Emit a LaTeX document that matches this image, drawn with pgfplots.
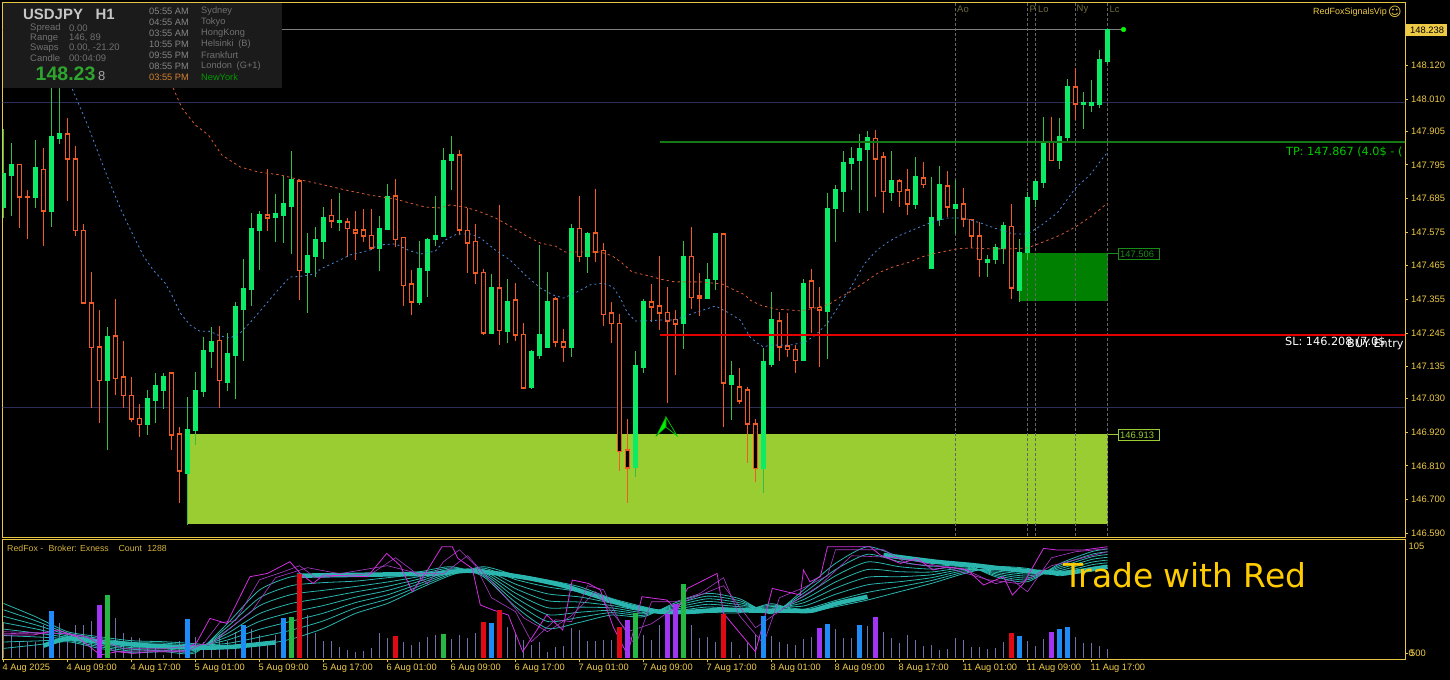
\documentclass[border=0pt]{standalone}
\usepackage{pgfplots}
\usepackage{pgfplotstable}
\usepackage{fontspec}
\pgfplotsset{compat=1.18}
\setmainfont{Liberation Sans}
\newfontfamily\djv{DejaVu Sans}
\definecolor{frame}{HTML}{E9C544}
\definecolor{ticktxt}{HTML}{EFCB45}
\definecolor{upbody}{HTML}{0BEB66}
\definecolor{upwick}{HTML}{35C045}
\definecolor{dnc}{HTML}{F05A25}
\definecolor{limebox}{HTML}{9ACD32}
\definecolor{greenbox}{HTML}{008000}
\definecolor{hline}{HTML}{2B2F58}
\definecolor{panelc}{HTML}{1B1B1B}
\definecolor{tealc}{HTML}{2AB5AE}
\definecolor{magc}{HTML}{D22FE0}
\definecolor{magd}{HTML}{A93CC8}
\definecolor{volc}{HTML}{7070A8}
\definecolor{vblue}{HTML}{1E8CF8}
\definecolor{vpur}{HTML}{A235F5}
\definecolor{vgrn}{HTML}{25B845}
\definecolor{vred}{HTML}{E00A14}
\definecolor{maorange}{HTML}{D65A30}
\definecolor{mablue}{HTML}{4A86D8}
\definecolor{sess}{HTML}{6F6B3C}
\definecolor{gtxt}{HTML}{707070}
\definecolor{tpgreen}{HTML}{157A15}
\definecolor{pricegreen}{HTML}{2EA52E}
\definecolor{tradeyel}{HTML}{FFCC00}
\definecolor{eightc}{HTML}{A6A6A6}

% k high bodytop bodybottom low
\pgfplotstableread{
k h t b l
0 147.912 147.768 147.657 147.621
1 147.866 147.795 147.762 147.628
4 147.876 147.785 147.690 147.654
6 148.056 147.889 147.644 147.592
7 148.047 147.896 147.883 147.863
13 147.264 147.232 147.088 146.862
18 147.058 147.029 146.944 146.911
19 147.114 147.071 147.025 146.950
20 147.114 147.101 147.058 146.996
23 147.035 146.930 146.786 146.616
24 147.117 147.055 146.927 146.878
25 147.232 147.186 147.055 147.035
26 147.264 147.215 147.186 147.130
28 147.245 147.176 147.084 147.055
29 147.346 147.330 147.173 147.029
30 147.487 147.389 147.323 147.153
31 147.637 147.585 147.389 147.333
32 147.644 147.631 147.582 147.451
34 147.700 147.634 147.624 147.543
35 147.758 147.667 147.631 147.539
36 147.840 147.746 147.660 147.503
38 147.572 147.497 147.444 147.310
39 147.592 147.549 147.494 147.428
40 147.657 147.624 147.546 147.487
42 147.703 147.611 147.608 147.579
47 147.628 147.588 147.523 147.448
48 147.732 147.690 147.585 147.585
52 147.546 147.454 147.346 147.336
53 147.556 147.552 147.451 147.362
54 147.693 147.565 147.552 147.529
55 147.850 147.808 147.562 147.559
56 147.889 147.827 147.808 147.713
61 147.438 147.392 147.245 147.245
63 147.421 147.349 147.251 147.212
66 147.189 147.183 147.068 147.061
67 147.533 147.241 147.173 147.160
68 147.444 147.346 147.196 147.196
71 147.601 147.585 147.196 147.166
73 147.575 147.569 147.494 147.441
79 147.186 147.137 146.806 146.773
80 147.356 147.346 147.133 147.114
85 147.546 147.494 147.277 147.192
88 147.474 147.421 147.359 147.356
89 147.572 147.569 147.421 147.385
91 147.153 147.104 147.078 146.960
95 147.196 147.150 146.800 146.721
96 147.379 147.287 147.143 147.133
100 147.421 147.408 147.156 147.153
103 147.703 147.651 147.317 147.160
104 147.729 147.713 147.651 147.543
105 147.840 147.801 147.709 147.641
106 147.853 147.814 147.801 147.713
107 147.896 147.847 147.811 147.637
108 147.906 147.883 147.847 147.644
111 147.840 147.742 147.706 147.677
114 147.821 147.755 147.664 147.651
116 147.755 147.621 147.457 147.457
117 147.791 147.729 147.618 147.595
119 147.746 147.664 147.654 147.569
123 147.500 147.484 147.477 147.428
124 147.536 147.523 147.484 147.471
125 147.608 147.595 147.523 147.471
127 147.552 147.507 147.385 147.346
128 147.706 147.687 147.507 147.484
129 147.749 147.739 147.683 147.657
130 147.952 147.867 147.736 147.719
132 147.948 147.889 147.808 147.781
133 148.076 148.050 147.886 147.873
135 148.034 147.998 147.994 147.912
136 148.073 147.998 147.991 147.968
137 148.171 148.138 147.994 147.981
138 148.240 148.238 148.132 148.125
}\upt

\pgfplotstableread{
k h t b l
2 147.795 147.795 147.690 147.588
3 147.713 147.691 147.688 147.552
5 147.850 147.781 147.644 147.529
8 147.948 147.896 147.814 147.677
9 147.857 147.814 147.579 147.562
10 147.601 147.579 147.343 147.340
11 147.444 147.343 147.196 146.999
12 147.320 147.199 147.088 146.950
14 147.356 147.235 147.097 147.042
15 147.219 147.101 147.039 146.999
16 147.101 147.039 146.963 146.953
17 147.012 146.966 146.944 146.904
21 147.117 147.114 146.911 146.862
22 146.937 146.914 146.793 146.688
27 147.268 147.219 147.088 146.999
33 147.781 147.631 147.621 147.579
37 147.742 147.742 147.448 147.353
41 147.683 147.628 147.611 147.588
43 147.621 147.608 147.588 147.494
44 147.644 147.582 147.572 147.484
45 147.651 147.582 147.562 147.543
46 147.651 147.565 147.523 147.516
49 147.749 147.693 147.552 147.526
50 147.559 147.556 147.399 147.333
51 147.451 147.405 147.346 147.304
57 147.844 147.827 147.582 147.565
58 147.654 147.579 147.539 147.441
59 147.601 147.543 147.441 147.405
60 147.454 147.444 147.245 147.238
62 147.664 147.392 147.254 147.205
64 147.408 147.353 147.238 147.219
65 147.277 147.241 147.065 147.061
69 147.362 147.356 147.215 147.199
70 147.258 147.215 147.199 147.150
72 147.693 147.588 147.494 147.477
74 147.716 147.572 147.510 147.477
75 147.539 147.516 147.304 147.268
76 147.346 147.310 147.277 147.212
77 147.307 147.277 146.858 146.793
78 146.963 146.862 146.803 146.688
81 147.405 147.346 147.330 147.281
82 147.497 147.333 147.310 147.254
83 147.395 147.313 147.284 147.016
84 147.320 147.290 147.274 147.107
86 147.592 147.494 147.362 147.323
87 147.441 147.366 147.359 147.300
90 147.569 147.569 147.081 146.937
92 147.130 147.068 147.022 147.012
93 147.068 147.058 146.947 146.819
94 146.963 146.947 146.800 146.757
97 147.313 147.284 147.199 147.153
98 147.310 147.202 147.192 147.166
99 147.205 147.192 147.156 147.114
101 147.454 147.415 147.327 147.245
102 147.395 147.327 147.320 147.133
109 147.909 147.880 147.814 147.690
110 147.837 147.821 147.709 147.637
112 147.749 147.742 147.709 147.657
113 147.781 147.713 147.667 147.631
115 147.804 147.752 147.732 147.719
118 147.775 147.726 147.657 147.624
120 147.719 147.667 147.618 147.592
121 147.618 147.615 147.562 147.523
122 147.608 147.562 147.484 147.428
126 147.667 147.592 147.392 147.356
131 147.952 147.867 147.808 147.808
134 148.112 148.050 147.994 147.942
}\dnt

\pgfplotstableread{
k p
8.6 148.043
9.3 148.001
10.6 147.919
11.7 147.844
13.0 147.755
14.7 147.647
16.2 147.565
17.5 147.497
18.7 147.451
20.2 147.408
21.1 147.366
22.1 147.310
23.3 147.271
24.5 147.251
25.8 147.250
27.1 147.235
28.3 147.228
29.6 147.245
31.1 147.287
32.5 147.330
34.2 147.382
35.8 147.428
37.1 147.430
39.0 147.438
39.6 147.454
42.1 147.484
43.3 147.500
45.8 147.516
46.8 147.533
49.0 147.536
50.6 147.516
52.1 147.503
54.0 147.513
55.2 147.549
56.7 147.569
58.3 147.569
59.6 147.556
61.5 147.516
63.3 147.484
65.2 147.435
67.1 147.392
68.7 147.369
70.0 147.359
71.7 147.379
73.3 147.402
74.9 147.408
76.2 147.395
77.1 147.359
78.0 147.310
79.0 147.284
80.2 147.284
82.1 147.287
83.9 147.287
85.2 147.300
87.1 147.317
89.0 147.333
90.5 147.313
92.1 147.287
93.3 147.232
94.2 147.212
95.0 147.199
95.8 147.205
98.3 147.205
100.2 147.215
101.5 147.238
103.0 147.277
105.5 147.376
106.8 147.435
107.7 147.474
109.2 147.516
110.6 147.543
112.1 147.565
114.2 147.588
116.1 147.608
118.0 147.621
120.0 147.621
122.1 147.605
123.9 147.588
126.2 147.569
128.0 147.569
129.6 147.595
131.7 147.637
134.0 147.719
135.8 147.762
138.0 147.837
}\mablue

\pgfplotstableread{
k p
21.2 148.047
22.3 147.981
24.0 147.925
25.6 147.893
27.3 147.827
29.6 147.788
31.8 147.772
34.6 147.762
37.1 147.746
39.6 147.732
42.7 147.713
45.8 147.696
49.0 147.683
50.8 147.670
52.7 147.657
54.6 147.654
55.8 147.664
57.7 147.657
59.6 147.641
61.5 147.621
63.3 147.595
65.2 147.565
67.1 147.539
69.0 147.529
70.2 147.510
72.7 147.510
74.6 147.510
76.1 147.497
77.3 147.474
78.6 147.444
80.8 147.431
82.1 147.421
83.9 147.412
87.1 147.412
89.8 147.405
91.4 147.385
92.7 147.369
93.3 147.353
94.6 147.336
96.5 147.323
98.3 147.320
99.6 147.317
101.5 147.327
103.3 147.340
104.6 147.362
105.8 147.379
107.7 147.412
109.3 147.441
111.2 147.461
113.3 147.477
114.8 147.494
116.7 147.507
119.2 147.520
120.8 147.523
123.3 147.520
125.8 147.520
128.0 147.523
130.0 147.543
132.1 147.565
134.0 147.592
136.2 147.631
138.0 147.670
}\maorange

\pgfplotstableread{
k t1 t2 t3 t4 t5 t6 t7 t8
0 54.3 47.9 41.4 35.0 28.6 22.2 15.7 9.3
4 41.0 37.0 32.9 28.9 24.8 20.8 16.7 12.7
8 26 24.6 23.1 21.7 20.3 18.9 17.4 16
12 21.0 19.3 17.7 16.0 14.3 12.6 11.0 9.3
16 17 15.3 13.6 11.9 10.1 8.4 6.7 5
20 16 14.6 13.1 11.7 10.3 8.9 7.4 6
24 14 12.7 11.4 10.1 8.9 7.6 6.3 5
28 11.0 14.3 17.7 21.0 24.3 27.6 31.0 34.3
32 12.7 20.6 28.4 36.3 44.1 52.0 59.8 67.7
36 18.7 27.6 36.5 45.4 54.3 63.2 72.1 81.0
40 29.3 36.9 44.6 52.2 59.8 67.4 75.1 82.7
44 44.3 49.7 55.1 60.5 65.8 71.2 76.6 82.0
48 54.3 58.6 62.9 67.2 71.4 75.7 80.0 84.3
52 69.3 71.7 74.1 76.5 78.8 81.2 83.6 86.0
56 82.7 83.9 85.1 86.3 87.4 88.6 89.8 91
60 91 89.6 88.1 86.7 85.3 83.9 82.4 81
64 82.7 78.2 73.6 69.1 64.6 60.1 55.5 51.0
68 77.7 70.8 63.9 57.0 50.0 43.1 36.2 29.3
72 71.0 65.9 60.8 55.7 50.6 45.5 40.4 35.3
76 59.3 56.9 54.6 52.2 49.8 47.4 45.1 42.7
80 51 49.6 48.1 46.7 45.3 43.9 42.4 41
84 44 45.6 47.1 48.7 50.3 51.9 53.4 55
88 45.3 48.0 50.7 53.4 56.2 58.9 61.6 64.3
92 45 47 49 51 53 55 57 59
96 54 52.6 51.1 49.7 48.3 46.9 45.4 44
100 45.3 48.5 51.7 54.9 58.1 61.3 64.5 67.7
104 51.0 57.2 63.4 69.6 75.7 81.9 88.1 94.3
108 57.7 65.3 72.9 80.5 88.2 95.8 103.4 111.0
112 66.0 71.0 76.0 81.0 86.0 91.0 96.0 101.0
116 74.3 77.2 80.0 82.9 85.7 88.6 91.4 94.3
120 84 85.4 86.9 88.3 89.7 91.1 92.6 94
124 91.0 89.6 88.1 86.7 85.3 83.9 82.4 81.0
128 89.3 87.4 85.5 83.6 81.7 79.8 77.9 76.0
132 82 83.7 85.4 87.1 88.9 90.6 92.3 94
136 87.7 90.3 92.9 95.5 98.2 100.8 103.4 106.0
138 89.3 92.1 94.9 97.6 100.4 103.2 105.9 108.7
}\tealt

\pgfplotstableread{
k v
0 36
1 22.7
2 16
3 16
4 16
5 32.7
7 34.3
8 22.7
9 32.7
10 32.7
11 36.7
14 39.3
15 24.3
16 21
17 19.3
18 14.3
19 9.3
20 2.7
21 9.3
22 16.7
24 21
25 16
26 17.7
27 22.7
28 16.7
29 26
31 28.7
32 22.7
33 16
34 22.7
38 42.7
39 24.3
40 16.7
41 16.7
42 11
43 7.7
44 5.3
45 6.7
46 9.3
47 24.3
48 20
50 16
51 12.7
52 15.3
53 21
54 22.7
56 18.7
57 22.7
58 20
59 24.3
63 31
64 24.3
65 17.7
66 12.7
67 16
68 6
69 11
70 11.7
71 29.3
72 27.7
73 16.7
74 16.7
75 17.7
76 17.7
80 22.7
81 17.7
82 32.7
86 32.7
87 20
88 21
89 16
91 15.3
92 2.7
93 14.3
94 22.7
96 22
97 16
98 13.3
99 12.7
100 18.7
101 21
104 28.7
105 20
106 20
108 32
110 25.3
111 19.3
112 14.3
113 22.7
114 17.7
115 12
116 12.7
117 7.7
118 8.7
119 19.3
120 17.3
121 11
122 11
123 8.7
124 10
125 16
128 16.7
129 12
130 18.7
134 21
135 14.3
136 14.3
137 12
138 8.7
}\volgrey

% draws one table's candles through the axis: wick, then body
\newcommand\candles[4]{%
  \pgfplotstablegetrowsof{#1}\pgfmathtruncatemacro\nn{\pgfplotsretval-1}%
  \pgfplotsforeachungrouped \rr in {0,...,\nn}{%
    \pgfplotstablegetelem{\rr}{k}\of{#1}\let\vk\pgfplotsretval
    \pgfplotstablegetelem{\rr}{h}\of{#1}\let\vh\pgfplotsretval
    \pgfplotstablegetelem{\rr}{t}\of{#1}\let\vt\pgfplotsretval
    \pgfplotstablegetelem{\rr}{b}\of{#1}\let\vb\pgfplotsretval
    \pgfplotstablegetelem{\rr}{l}\of{#1}\let\vl\pgfplotsretval
    \pgfmathsetmacro\xa{\vk-0.25}\pgfmathsetmacro\xb{\vk+0.25}%
    \edef\tmp{\noexpand\addplot[color=#2,line width=1.3bp] coordinates {(\vk,\vh)(\vk,\vl)};%
      \noexpand\addplot[draw=#3,fill=#4,line width=1.2bp] coordinates {(\xa,\vt)(\xb,\vt)(\xb,\vb)(\xa,\vb)} --cycle;}\tmp
  }}

\begin{document}
\begin{tikzpicture}
\useasboundingbox (0,0) rectangle (1450bp,-680bp);
\fill[black] (0,0) rectangle (1450bp,-680bp);

% ---------- price window ----------
\begin{axis}[
  name=main, at={(2.5bp,-537bp)}, anchor=south west,
  scale only axis, width=1402.5bp, height=534.5bp,
  xmin=-0.125, xmax=175.1875, ymin=146.577, ymax=148.3264,
  axis line style={color=frame, line width=1bp},
  xtick=\empty,
  ytick={148.120,148.010,147.905,147.795,147.685,147.575,147.465,147.355,147.245,147.135,147.030,146.920,146.810,146.700,146.590},
  yticklabels={148.120,148.010,147.905,147.795,147.685,147.575,147.465,147.355,147.245,147.135,147.030,146.920,146.810,146.700,146.590},
  ytick pos=right, yticklabel pos=right,
  ytick style={color=frame, line width=0.8bp},
  tick align=outside, major tick length=3bp,
  yticklabel style={font=\fontsize{9.4}{10}\selectfont, text=ticktxt, anchor=west, inner sep=0pt, xshift=3bp},
]
% boxes
\addplot[fill=limebox, draw=none] coordinates {(23,146.914) (138,146.914) (138,146.6195) (23,146.6195)} --cycle;
\addplot[fill=greenbox, draw=none] coordinates {(127,147.506) (138,147.506) (138,147.3494) (127,147.3494)} --cycle;
% horizontal levels
\addplot[hline, line width=1bp] coordinates {(-1,148.000) (176,148.000)};
\addplot[hline, line width=1bp] coordinates {(-1,147.000) (176,147.000)};
\addplot[color=gray, line width=0.8bp] coordinates {(-1,148.238) (140,148.238)};
% session verticals
\addplot[color=black!60!white, dash pattern=on 2.5bp off 2.5bp, line width=0.7bp] coordinates {(119,146.5) (119,148.4)};
\addplot[color=black!60!white, dash pattern=on 2.5bp off 2.5bp, line width=0.7bp] coordinates {(128,146.5) (128,148.4)};
\addplot[color=black!60!white, dash pattern=on 2.5bp off 2.5bp, line width=0.7bp] coordinates {(129,146.5) (129,148.4)};
\addplot[color=black!60!white, dash pattern=on 2.5bp off 2.5bp, line width=0.7bp] coordinates {(134,146.5) (134,148.4)};
\addplot[color=black!60!white, dash pattern=on 2.5bp off 2.5bp, line width=0.7bp] coordinates {(138,146.5) (138,148.4)};
% candles
\candles{\dnt}{dnc}{dnc}{black}
\candles{\upt}{upwick}{upbody}{upbody}
% moving averages
\addplot[mablue, line width=0.8bp, dash pattern=on 2bp off 3bp] table[x=k,y=p] {\mablue};
\addplot[maorange, line width=0.8bp, dash pattern=on 2.5bp off 3bp] table[x=k,y=p] {\maorange};
% TP / SL
\addplot[color=tpgreen, line width=2.2bp] coordinates {(82,147.869) (176,147.869)};
\addplot[color=red!90!black, line width=2.2bp] coordinates {(82,147.238) (176,147.238)};
% arrow
\addplot[fill=green!95!black, draw=green!60!black, line width=0.5bp] coordinates {(82.8,146.970) (81.6,146.908) (82.8,146.937)} --cycle;
\addplot[fill=black, fill opacity=0, draw=green!80!black, line width=0.7bp] coordinates {(82.8,146.970) (84.2,146.908) (82.8,146.937)} --cycle;
% last price dot
\addplot[only marks, mark=*, mark size=2.3bp, color=green, mark options={draw=green, fill=green}] coordinates {(140,148.238)};
\end{axis}

% ---------- indicator window ----------
\begin{axis}[
  name=sub, at={(2.5bp,-659.3bp)}, anchor=south west,
  scale only axis, width=1402.5bp, height=120.3bp,
  xmin=-0.125, xmax=175.1875, ymin=-1.6, ymax=118.7,
  axis line style={color=frame, line width=1bp},
  xtick={0,8,16,24,32,40,48,56,64,72,80,88,96,104,112,120,128,136},
  xticklabels={4 Aug 2025,4 Aug 09:00,4 Aug 17:00,5 Aug 01:00,5 Aug 09:00,5 Aug 17:00,6 Aug 01:00,6 Aug 09:00,6 Aug 17:00,7 Aug 01:00,7 Aug 09:00,7 Aug 17:00,8 Aug 01:00,8 Aug 09:00,8 Aug 17:00,11 Aug 01:00,11 Aug 09:00,11 Aug 17:00},
  xtick pos=bottom, xticklabel pos=bottom,
  ytick={4.2}, yticklabels={}, ytick pos=right,
  tick style={color=frame, line width=0.8bp},
  tick align=outside, major tick length=3bp,
  xticklabel style={font=\fontsize{9.3}{10}\selectfont, text=ticktxt, anchor=north west, inner sep=0pt, xshift=-1bp, yshift=-2bp},
]
\addplot[ycomb, color=volc, line width=1.3bp] table[x=k,y=v] {\volgrey};
\pgfplotsinvokeforeach{1,...,8}{
  \addplot[tealc, line width=0.8bp, smooth, tension=0.4] table[x=k,y=t#1] {\tealt};
}
% solid converged parts of the ribbon
\addplot[tealc, line width=4.5bp, smooth, tension=0.4] coordinates {(5,12)(8,19.3)(12,16)(18.3,12)(24.6,10)(28.8,11)(34,15.3)};
\addplot[tealc, line width=4.5bp, smooth, tension=0.4] coordinates {(36.7,82)(50,83.5)(54,84)(58,87)(62,84)(66,79)(70,72)(74,62)(78,52)(82,46)(86,46)(90,48)(94,47)(98,47)(101,47)(104,54)(108,61)};
\addplot[tealc, line width=4.5bp, smooth, tension=0.4] coordinates {(110,102.7)(116.5,96)(121,92.7)(125,89)(129,86)(133,85)(138,91)};
\addplot[magd, line width=0.6bp] coordinates {(0,26)(8,24)(12,18)(15,9)(20,9)(26,14)(29,34)(31,46)(34,80)(38,90)(42,84)(48,92)(52,84)(55,84)(58,102)(61,76)(65,40)(68,26)(71,42)(74,66)(78,26)(81,34)(85,56)(90,72)(94,30)(98,52)(102,72)(106,102)(112,100)(118,90)(123,78)(127,74)(131,92)(138,106)};
\addplot[magd, line width=0.6bp] coordinates {(0,24)(6,25)(10,22)(14,6)(18,7)(23,7)(25,14)(27,35)(29,37)(32,78)(35,86)(37,92)(39,80)(42,82)(46,84)(49,100)(51,88)(53,74)(55,96)(57,108)(59,92)(61,60)(64,46)(66,16)(69,38)(71,36)(73,72)(75,68)(77,36)(79,12)(81,56)(84,56)(87,64)(90,80)(92,42)(95,14)(97,60)(100,70)(103,82)(104,108)(110,108)(113,94)(116,92)(120,89)(124,74)(126,78)(128,66)(131,100)(134,106)(138,109)};
\addplot[magc, line width=0.8bp] coordinates {(0,22.7)(3.7,22.7)(6.7,27.7)(9.2,21)(12.1,2.7)(14.2,6)(16.2,4.3)(18.3,6)(22.5,6)(24.2,16)(25.8,39.3)(27.9,34.3)(30.8,81)(33,84.3)(35.8,96)(37.1,84.3)(38.7,74.3)(40,82.7)(45.5,81)(47.9,104.3)(49.6,92)(51.1,66)(53,87.7)(54.8,111)(56.1,111)(56.8,99.3)(58.6,89.3)(59.6,52.7)(61.2,47.7)(63.1,42.7)(64.9,6)(67.9,42.7)(69.9,27.7)(71.1,77.7)(73.1,74.3)(74.6,67.7)(76.2,31)(78,2.7)(79.8,61)(82.9,57.7)(84.2,47.7)(85.5,69.3)(89.2,84.3)(90,44.3)(94,6)(96.1,69.3)(99.6,62.7)(100,87.7)(100.8,76)(102.1,81)(103,111)(105.8,111)(108.3,111)(109.6,102.7)(112.1,94.3)(114.2,99.3)(116.2,87.7)(118,91)(120.5,87.7)(122.5,72.7)(125,81)(126.1,62.7)(127.5,74.3)(130,109.3)(131.7,107.7)(135,107.7)(138,111)};
\addplot[ycomb, color=vblue, line width=5bp] coordinates {(6,46.7)(23,38.7)(30,32.7)(35,39.3)(61,34.7)(95,41.7)(103,33.7)(107,32.7)(127,21.7)(132,28.7)(133,30.7)};
\addplot[ycomb, color=vpur, line width=5bp] coordinates {(12,52.7)(78,37.7)(83,43.3)(84,53.7)(102,29.7)(109,40.7)(131,25.7)};
\addplot[ycomb, color=vgrn, line width=5bp] coordinates {(13,62.7)(36,41)(55,23.7)(79,44.3)(85,73.3)};
\addplot[ycomb, color=vred, line width=5bp] coordinates {(37,83.3)(49,22)(60,35.7)(62,47.7)(77,31)(90,43.7)(126,24.7)};
\end{axis}

% ---------- text layer, in reference pixels ----------
\begin{scope}[x=1bp,y=-1bp]
\def\fs#1{\fontsize{#1}{#1}\selectfont}
\tikzset{t/.style={anchor=west, inner sep=0pt}}
% info panel
\fill[panelc] (3,3) rectangle (282,88);
\node[t,text=black!22!white,font=\fs{15}\bfseries] at (23,14) {USDJPY};
\node[t,text=black!22!white,font=\fs{15}\bfseries] at (95.5,14) {H1};
\foreach \yy/\aa/\bb in {28/Spread/0.00,38/Range/{146, 89},48/Swaps/{0.00, -21.20},58/Candle/00:04:09}{
  \node[t,text=gtxt,font=\fs{9.5}] at (30,\yy) {\aa};
  \node[t,text=gtxt,font=\fs{9.5}] at (69,\yy) {\bb};
}
\node[t,text=pricegreen,font=\fs{19.6}\bfseries] at (35.5,74) {148.23};
\node[t,text=eightc,font=\fs{13}] at (98,76) {8};
\foreach \yy/\aa/\bb in {11.5/05:55 AM/Sydney,22.5/04:55 AM/Tokyo,33.5/03:55 AM/HongKong,44.5/10:55 PM/{Helsinki\,\,\,(B)},55.5/09:55 PM/Frankfurt,66.5/08:55 PM/{London\,\,\,(G+1)}}{
  \node[t,text=gtxt!85,font=\fs{9.3}] at (149,\yy) {\aa};
  \node[t,text=gtxt,font=\fs{9.3}] at (201,\yy) {\bb};
}
\node[t,text=brown!70!orange,font=\fs{9.3}] at (149,77.5) {03:55 PM};
\node[t,text=green!60!black,font=\fs{9.3}] at (201,77.5) {NewYork};
% session names
\foreach \xx/\aa in {957/Ao,1029.5/P,1038/Lo,1076.5/Ny,1109.5/Lc}{
  \node[t,text=sess,font=\fs{9.5}] at (\xx,9.5) {\aa};
}
\node[t,text=ticktxt,font=\fs{9}] at (1313,12) {RedFoxSignalsVip};
\node[t,text=ticktxt,font=\djv\fs{13}] at (1388,12) {☺};
% current price tag
\fill[ticktxt] (1406,24) rectangle (1447,35.5);
\node[t,text=black,font=\fs{9.4}] at (1410,30) {148.238};
% box price tags
\draw[greenbox!90!white,line width=0.7bp] (1107.5,253) -- (1118,253);
\draw[greenbox!90!white,line width=0.7bp] (1118,248) rectangle (1159.5,259.5);
\node[t,text=greenbox!90!white,font=\fs{9.4}] at (1120,254) {147.506};
\draw[limebox,line width=0.7bp] (1107.5,434) -- (1118,434);
\draw[limebox,line width=0.7bp] (1118,429) rectangle (1159.5,440.5);
\node[t,text=limebox,font=\fs{9.4}] at (1120,435) {146.913};
% TP / SL texts
\begin{scope}
\clip (0,0) rectangle (1404,537);
\node[t,text=green!80!black,font=\djv\fs{11.3}] at (1286,152) {TP: 147.867 (4.0\$ - (};
\node[t,text=white,font=\djv\fs{11.3}] at (1285,342) {SL: 146.208 (7.0\$};
\node[t,text=white,font=\djv\fs{11.3}] at (1347,345) {BUY Entry};
\end{scope}
% indicator window texts
\node[t,text=frame!90!black,font=\fs{8.8}] at (7,548) {RedFox -\,\, Broker: Exness\,\,\,\,\, Count\,\, 1288};
\node[t,text=ticktxt,font=\fs{9.4}] at (1408.5,546.5) {105};
\node[t,text=ticktxt,font=\fs{9.4}] at (1408.5,653.5) {0};
\node[t,text=ticktxt,font=\fs{9.4}] at (1410,653.5) {500};
\node[t,text=tradeyel,font=\djv\fs{33}] at (1063,575) {Trade with Red};
\end{scope}
\end{tikzpicture}
\end{document}
